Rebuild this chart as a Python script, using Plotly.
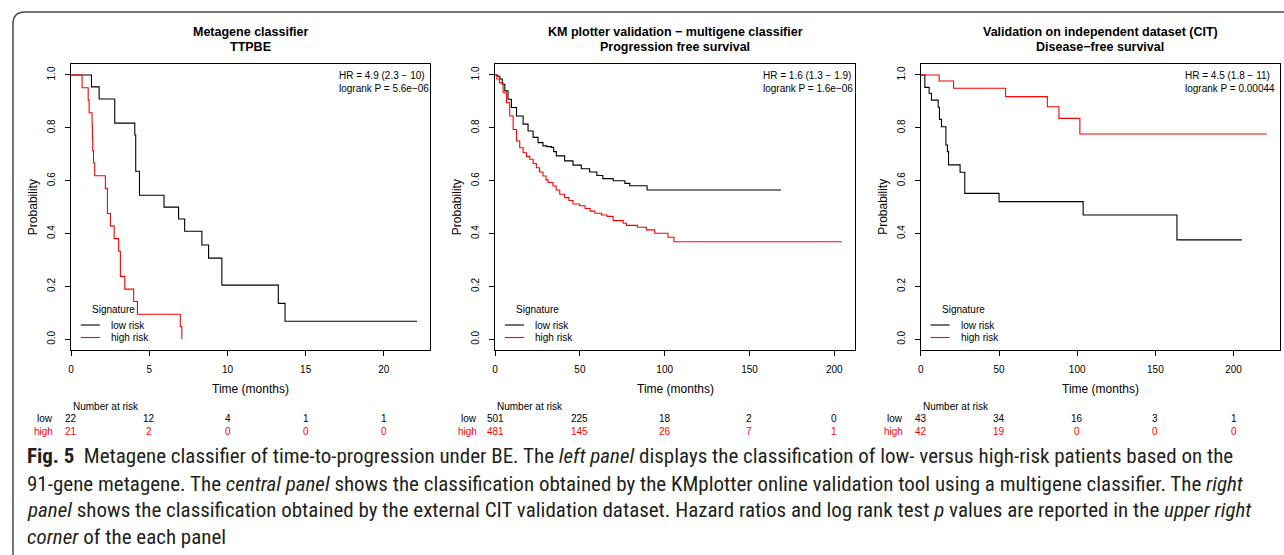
import plotly.graph_objects as go

W, H = 1284, 555

# ---------------- data ----------------
# Left panel: Metagene classifier TTPBE
left_low_t = [0, 1.30, 1.79, 2.79, 4.07, 4.13, 4.37, 5.94, 6.87, 7.26, 8.36, 8.79, 9.64, 13.25, 13.68, 22.12]
left_low_s = [1.0, 0.955, 0.909, 0.818, 0.773, 0.636, 0.545, 0.500, 0.455, 0.409, 0.357, 0.307, 0.205, 0.136, 0.068, 0.068]
left_high_t = [0, 0.70, 1.09, 1.15, 1.34, 1.36, 1.38, 1.43, 1.51, 2.19, 2.32, 2.51, 2.75, 3.04, 3.15, 3.43, 4.00, 4.24, 6.98, 7.08]
left_high_s = [1.0, 0.952, 0.905, 0.857, 0.810, 0.762, 0.714, 0.667, 0.619, 0.571, 0.476, 0.429, 0.381, 0.333, 0.238, 0.190, 0.143, 0.095, 0.048, 0.0]

# Centre panel: KM plotter validation
center_low_t = [0, 1.5, 2.8, 4.2, 5.7, 7.6, 9.6, 12.6, 16.5, 19.4, 22.4, 25.3, 28.2, 30.5, 33.2, 34.5, 36.1, 41.0,
                45.9, 50.8, 55.7, 60.0, 63.5, 69.6, 76.5, 79.4, 89.6, 168.6]
center_low_s = [1.0, 0.995, 0.985, 0.965, 0.940, 0.908, 0.877, 0.845, 0.814, 0.788, 0.764, 0.744, 0.732, 0.729, 0.726,
                0.710, 0.694, 0.675, 0.659, 0.645, 0.633, 0.620, 0.608, 0.600, 0.590, 0.581, 0.565, 0.565]
center_high_t = [0, 1.0, 2.5, 4.7, 6.7, 8.6, 10.6, 12.6, 14.5, 16.5, 18.5, 20.4, 22.4, 24.3, 26.2, 28.2, 30.0, 31.2,
                 34.1, 36.0, 38.1, 41.0, 43.5, 45.9, 49.8, 53.0, 56.0, 58.8, 62.8, 66.0, 69.6, 75.5, 77.5, 83.9, 89.2,
                 94.1, 101.9, 105.5, 204.4]
center_high_s = [1.0, 0.985, 0.970, 0.933, 0.895, 0.845, 0.794, 0.750, 0.725, 0.706, 0.692, 0.681, 0.665, 0.649, 0.633,
                 0.618, 0.603, 0.593, 0.580, 0.565, 0.549, 0.536, 0.525, 0.512, 0.505, 0.495, 0.485, 0.477, 0.470,
                 0.465, 0.449, 0.439, 0.431, 0.424, 0.414, 0.401, 0.386, 0.369, 0.369]

# Right panel: CIT validation
right_low_t = [0, 2.55, 5.3, 6.8, 11.1, 11.9, 13.2, 16.0, 17.0, 17.7, 25.1, 28.1, 50.0, 103.8, 163.8, 205.3]
right_low_s = [1.0, 0.953, 0.931, 0.905, 0.878, 0.832, 0.804, 0.735, 0.710, 0.660, 0.632, 0.552, 0.521, 0.470, 0.376, 0.376]
right_high_t = [0, 11.7, 20.9, 54.2, 80.9, 88.3, 101.7, 221.3]
right_high_s = [1.0, 0.977, 0.950, 0.918, 0.880, 0.836, 0.777, 0.777]

# Number-at-risk tables
left_risk_times = [0, 5, 10, 15, 20]
left_risk_low = [22, 12, 4, 1, 1]
left_risk_high = [21, 2, 0, 0, 0]
center_risk_times = [0, 50, 100, 150, 200]
center_risk_low = [501, 225, 18, 2, 0]
center_risk_high = [481, 145, 26, 7, 1]
right_risk_times = [0, 50, 100, 150, 200]
right_risk_low = [43, 34, 16, 3, 1]
right_risk_high = [42, 19, 0, 0, 0]

y_ticks = [0.0, 0.2, 0.4, 0.6, 0.8, 1.0]

titles = [("Metagene classifier", "TTPBE"),
          ("KM plotter validation \u2212 multigene classifier", "Progression free survival"),
          ("Validation on independent dataset (CIT)", "Disease\u2212free survival")]
hr_texts = [("HR = 4.9 (2.3 \u2212 10)", "logrank P = 5.6e\u221206"),
            ("HR = 1.6 (1.3 \u2212 1.9)", "logrank P = 1.6e\u221206"),
            ("HR = 4.5 (1.8 \u2212 11)", "logrank P = 0.00044")]

caption_lines = [
    "<b>Fig.\u00a05</b>\u2002Metagene classifier of time-to-progression under BE. The <i>left panel</i> displays the classification of low- versus high-risk patients based on the",
    "91-gene metagene. The <i>central panel</i> shows the classification obtained by the KMplotter online validation tool using a multigene classifier. The <i>right</i>",
    "<i>panel</i> shows the classification obtained by the external CIT validation dataset. Hazard ratios and log rank test <i>p</i> values are reported in the <i>upper right</i>",
    "<i>corner</i> of the each panel",
]

# ---------------- layout helpers ----------------
def px(x):
    return x / W

def py(y):
    return 1 - y / H

FONT = "Liberation Sans, Arial, Helvetica, sans-serif"
panels = [
    dict(x0=68.3, x1=428.3, xmax=22.97, ticks=left_risk_times,
         low=(left_low_t, left_low_s), high=(left_high_t, left_high_s),
         rl=left_risk_low, rh=left_risk_high),
    dict(x0=493.3, x1=854.3, xmax=212.4, ticks=center_risk_times,
         low=(center_low_t, center_low_s), high=(center_high_t, center_high_s),
         rl=center_risk_low, rh=center_risk_high),
    dict(x0=920.0, x1=1280.0, xmax=229.7, ticks=right_risk_times,
         low=(right_low_t, right_low_s), high=(right_high_t, right_high_s),
         rl=right_risk_low, rh=right_risk_high),
]
plot_top, plot_bot = 64.0, 350.0
yrange = [-0.0405, 1.0416]

fig = go.Figure()
annotations = []
shapes = []
layout_axes = {}

for i, p in enumerate(panels):
    n = "" if i == 0 else str(i + 1)
    xa, ya = "x" + n, "y" + n
    fig.add_trace(go.Scatter(x=p["low"][0], y=p["low"][1], mode="lines", line=dict(color="#000000", width=1.1, shape="hv"),
                             xaxis=xa, yaxis=ya, showlegend=False, hoverinfo="skip"))
    fig.add_trace(go.Scatter(x=p["high"][0], y=p["high"][1], mode="lines", line=dict(color="#FF0000", width=1.1, shape="hv"),
                             xaxis=xa, yaxis=ya, showlegend=False, hoverinfo="skip"))
    layout_axes["xaxis" + n] = dict(
        domain=[px(p["x0"]), px(p["x1"])], range=[0, p["xmax"]], anchor=ya,
        tickvals=p["ticks"], ticks="outside", ticklen=5, tickcolor="#000", tickwidth=1,
        showline=True, linecolor="#000", linewidth=1, mirror=True, showgrid=False, zeroline=False,
        tickfont=dict(family=FONT, size=10, color="#000"), ticklabelstandoff=5)
    layout_axes["yaxis" + n] = dict(
        domain=[py(plot_bot), py(plot_top)], range=yrange, anchor=xa,
        tickvals=y_ticks, ticktext=["%.1f" % v for v in y_ticks], tickangle=-90,
        ticks="outside", ticklen=5, tickcolor="#000", tickwidth=1,
        showline=True, linecolor="#000", linewidth=1, mirror=True, showgrid=False, zeroline=False,
        tickfont=dict(family=FONT, size=10, color="#000"), ticklabelstandoff=6)

    xd = xa + " domain"
    # titles
    for j, (t, yy) in enumerate(zip(titles[i], [32.5, 47.0])):
        annotations.append(dict(text="<b>%s</b>" % t, xref=xd, x=0.5, yref="paper", y=py(yy),
                                xanchor="center", yanchor="middle", showarrow=False,
                                font=dict(family=FONT, size=12.5, color="#000")))
    # HR text
    hx = 0.739 if i < 2 else 0.731
    for t, yy in zip(hr_texts[i], [76.0, 88.5]):
        annotations.append(dict(text=t, xref=xd, x=hx, yref="paper", y=py(yy), xanchor="left", yanchor="middle",
                                showarrow=False, font=dict(family=FONT, size=10, color="#000")))
    # legend
    annotations.append(dict(text="Signature", xref=xd, x=0.052, yref="paper", y=py(309.5), xanchor="left",
                            yanchor="middle", showarrow=False, font=dict(family=FONT, size=10, color="#000")))
    for lab, col, yy in [("low risk", "#000000", 325.0), ("high risk", "#FF0000", 337.5)]:
        annotations.append(dict(text=lab, xref=xd, x=0.105, yref="paper", y=py(yy), xanchor="left",
                                yanchor="middle", showarrow=False, font=dict(family=FONT, size=10, color="#000")))
        shapes.append(dict(type="line", xref=xd, x0=0.027, x1=0.080, yref="paper", y0=py(yy), y1=py(yy),
                           line=dict(color=col, width=1.1)))
    # axis titles
    annotations.append(dict(text="Probability", xref=xd, x=0, xshift=-38, yref="paper", y=py((plot_top + plot_bot) / 2),
                            xanchor="center", yanchor="middle", textangle=-90, showarrow=False,
                            font=dict(family=FONT, size=12, color="#000")))
    annotations.append(dict(text="Time (months)", xref=xd, x=0.5, yref="paper", y=py(388.5),
                            xanchor="center", yanchor="middle", showarrow=False,
                            font=dict(family=FONT, size=12, color="#000")))
    # number at risk
    annotations.append(dict(text="Number at risk", xref=xa, x=0, yref="paper", y=py(406.5), xanchor="left",
                            yanchor="middle", showarrow=False, font=dict(family=FONT, size=10, color="#000")))
    for lab, vals, col, yy in [("low", p["rl"], "#000000", 418.5), ("high", p["rh"], "#FF0000", 431.0)]:
        annotations.append(dict(text=lab, xref=xd, x=0, xshift=-16, yref="paper", y=py(yy), xanchor="right",
                                yanchor="middle", showarrow=False, font=dict(family=FONT, size=10, color=col)))
        for tt, v in zip(p["ticks"], vals):
            annotations.append(dict(text=str(v), xref=xa, x=tt, yref="paper", y=py(yy), xanchor="center",
                                    yanchor="middle", showarrow=False, font=dict(family=FONT, size=10, color=col)))

# caption
CAP_FONT = "Liberation Sans Narrow, Roboto Condensed, DejaVu Sans Condensed, Liberation Sans, sans-serif"
for k, (line, yy) in enumerate(zip(caption_lines, [456.0, 483.5, 510.0, 536.5])):
    annotations.append(dict(text=line, xref="paper", x=px(22), yref="paper", y=py(yy), xanchor="left",
                            yanchor="middle", showarrow=False, font=dict(family=CAP_FONT, size=21, color="#231F20")))

# rounded outer frame (top-left corner visible)
r = 12
bx, by = 10.0, 12.0
path = "M %f %f L %f %f Q %f %f %f %f L %f %f" % (
    px(bx), py(H + 20), px(bx), py(by + r), px(bx), py(by), px(bx + r), py(by), px(W + 20), py(by))
shapes.append(dict(type="path", xref="paper", yref="paper", path=path, line=dict(color="#4a4a4a", width=1.5)))

fig.update_layout(
    width=W, height=H, margin=dict(l=0, r=0, t=0, b=0),
    paper_bgcolor="white", plot_bgcolor="white",
    annotations=annotations, shapes=shapes, showlegend=False,
    **layout_axes)

fig.write_html("out.html", config={"displayModeBar": False},
               post_script="document.body.style.margin='0';document.body.style.overflow='hidden';")
